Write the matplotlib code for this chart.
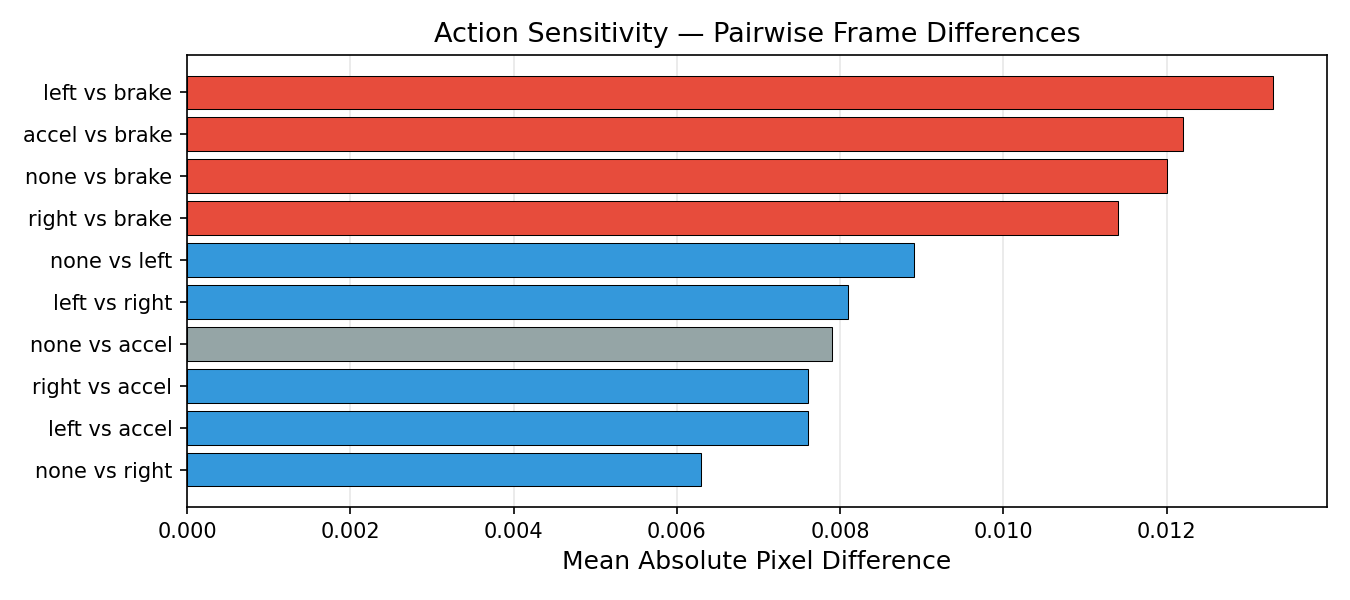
import matplotlib
matplotlib.use("Agg")
import matplotlib.pyplot as plt

labels = ["left vs brake", "accel vs brake", "none vs brake", "right vs brake",
          "none vs left", "left vs right", "none vs accel", "right vs accel",
          "left vs accel", "none vs right"]
values = [0.01330, 0.01220, 0.01200, 0.01140, 0.00891, 0.00810, 0.00790,
          0.00761, 0.00761, 0.00630]
groups = ["brake", "brake", "brake", "brake", "steer", "steer", "accel",
          "steer", "steer", "steer"]
palette = {"brake": "#e74c3c", "steer": "#3498db", "accel": "#95a5a6"}

fig, ax = plt.subplots(figsize=(9, 4), dpi=150)
ypos = list(range(len(labels)))[::-1]
ax.barh(ypos, values, color=[palette[g] for g in groups],
        edgecolor="black", linewidth=0.5)
ax.set_yticks(ypos)
ax.set_yticklabels(labels)
ax.set_xlabel("Mean Absolute Pixel Difference", fontsize=12)
ax.set_title("Action Sensitivity — Pairwise Frame Differences", fontsize=13)
ax.grid(axis="x", alpha=0.3)
ax.set_axisbelow(True)
fig.subplots_adjust(left=187/1350, right=1327/1350, top=1-55/600, bottom=1-507/600)
fig.savefig("out.png", dpi=150)
